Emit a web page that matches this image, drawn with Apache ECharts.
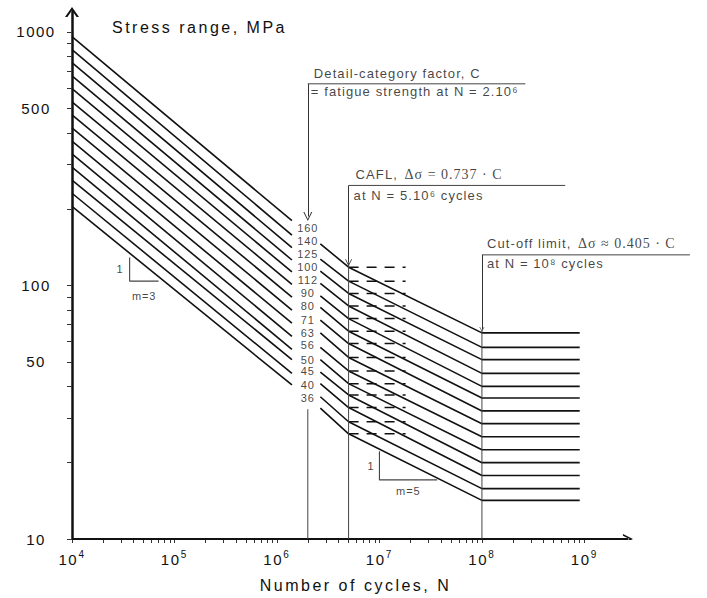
<!DOCTYPE html>
<html><head><meta charset="utf-8">
<script src="https://cdn.jsdelivr.net/npm/echarts@6/dist/echarts.min.js"></script>
<style>html,body{margin:0;padding:0;background:#fff;}#main{width:707px;height:598px;}</style>
</head><body><div id="main"></div>
<script>
// ---------- data ----------
const detailCategories = [160,140,125,112,100,90,80,71,63,56,50,45,40,36];
const categoryLabels = ['160','140','125','100','112','90','80','71','63','56','50','45','40','36'];
const categoryLabelLevel = [169,150,133,118,105,93,83,73,65,58,51,46,40.5,36];
const cycleBreaks = { start: 1e4, leftEnd: 1.4e6, rightStart: 2.65e6, cafl: 5e6, dashEnd: 1.8e7, cutoff: 1e8, end: 9e8 };
const stressAtStart = [958,851,756,671,597,530,471,418,371,330,293,260,231,205];
const stressAtLeftEnd = [180,158,141,126,113,101,90,80,71,63,56,51,45,40.5];
const stressAtRightStart = [146,127,114,102,91,82,73,65,57,51,45.5,41,36.4,32.8];
const stressCAFL = [118,104,93,83,74,66,59,52,46,41,37,33,29,26];
const stressCutoff = [65,57,51,45,40,36,32,28.5,25.3,22.5,20,17.8,15.8,14.2];

const yLabelValues = [10,50,100,500,1000];
const yTickValues = [10,20,30,40,50,60,70,80,90,100,200,300,400,500,600,700,800,900,1000];
const xLabelValues = [1e4,1e5,1e6,1e7,1e8,1e9];
const xTickValues = [];
[1e4,1e5,1e6,1e7,1e8].forEach(d => { for (let k = 1; k < 10; k++) xTickValues.push(d*k); });
xTickValues.push(1e9);
const xAxisArrowEnd = 2.66e9;   // where the drawn x-axis line ends

// guide lines: N position, bracket level, arrow tip level
const guideN = [2e6, 5e6, 1e8];
const guideTop = [624, 248, 132];
const guideArrowTip = [187, 123, 67];
const guideLowerStart = [32.5, 123, 67];
const guideRuleEndN = [2.65e8, 6.5e8, 1.07e10];

// slope triangles [N at vertical leg, top, bottom, N at right end]
const slopeM3 = { n1: 3.65e4, top: 128.8, bottom: 104, n2: 7.0e4 };
const slopeM5 = { n1: 1.0e7, top: 22.2, bottom: 17.1, n2: 3.66e7 };

// annotation texts: [guide index, text, font kind]
const annotTexts = [
  [0, 'Detail-category factor, C', 'sans'],
  [0, '= fatigue strength at N = 2.10\u2076', 'sans'],
  [1, 'CAFL,', 'sans'],
  [1, '\u0394\u03c3 = 0.737 \u00b7 C', 'serif'],
  [1, 'at N = 5.10\u2076 cycles', 'sans'],
  [2, 'Cut-off limit,', 'sans'],
  [2, '\u0394\u03c3 \u2248 0.405 \u00b7 C', 'serif'],
  [2, 'at N = 10\u2078 cycles', 'sans']
];
const annotOffsets = [[6,-10],[3,8],[7,-11],[56,-11],[5,10],[5,-11],[96,-11],[5,9]];

// ---------- chart ----------
const FONT = '"Liberation Sans", Arial, sans-serif';
const SERIF = '"Liberation Serif", "Times New Roman", serif';
const INK = '#111';
const chevron = 'path://M0,10 L7,0 L14,10 L11.6,10 L7,3.4 L2.4,10 Z';
const thinChevron = 'path://M0,10 L5,0 L10,10 L8.8,10 L5,2.2 L1.2,10 Z';

const chart = echarts.init(document.getElementById('main'), null, { renderer: 'svg' });

const spacingBySize = {16: 2.5, 15: 1.5, 14: 1.0, 13: 1.1, 11: 0.9, 10: 0.3, 9: 0.3};
function applySpacing() {
  document.querySelectorAll('#main svg text').forEach(t => {
    const fs = Math.round(parseFloat(getComputedStyle(t).fontSize));
    if (spacingBySize[fs] != null) t.style.letterSpacing = spacingBySize[fs] + 'px';
  });
}
chart.on('finished', applySpacing);

const series = [];
const curveStyle = { color: INK, width: 1.6 };
const lineBase = { type: 'line', symbol: 'none', silent: true, animation: false };

detailCategories.forEach((c, i) => {
  series.push(Object.assign({}, lineBase, {
    name: 'm3-' + c, lineStyle: curveStyle,
    data: [[cycleBreaks.start, stressAtStart[i]], [cycleBreaks.leftEnd, stressAtLeftEnd[i]]]
  }));
  series.push(Object.assign({}, lineBase, {
    name: 'curve-' + c, lineStyle: curveStyle,
    data: [[cycleBreaks.rightStart, stressAtRightStart[i]], [cycleBreaks.cafl, stressCAFL[i]],
           [cycleBreaks.cutoff, stressCutoff[i]], [cycleBreaks.end, stressCutoff[i]]]
  }));
  series.push(Object.assign({}, lineBase, {
    name: 'cafl-' + c, lineStyle: { color: INK, width: 1.5, type: [10, 8] },
    data: [[cycleBreaks.cafl, stressCAFL[i]], [cycleBreaks.dashEnd, stressCAFL[i]]]
  }));
});

// category labels
series.push({
  type: 'scatter', silent: true, symbolSize: 0, animation: false,
  data: categoryLabelLevel.map((v, i) => ({ value: [2e6, v], label: { formatter: categoryLabels[i] } })),
  label: { show: true, position: 'inside', color: INK, fontFamily: FONT, fontSize: 11 }
});

// guide lines
const guideStyle = { color: '#444', width: 1 };
guideN.forEach((n, i) => {
  series.push(Object.assign({}, lineBase, { lineStyle: guideStyle,
    data: [[n, guideTop[i]], [guideRuleEndN[i], guideTop[i]]] }));
  series.push(Object.assign({}, lineBase, { lineStyle: guideStyle,
    data: [[n, guideLowerStart[i]], [n, 10]] }));
});
series.push({
  type: 'lines', coordinateSystem: 'cartesian2d', silent: true, animation: false,
  symbol: ['none', thinChevron], symbolSize: [10, 9],
  lineStyle: { color: '#333', width: 1, opacity: 1 },
  data: guideN.map((n, i) => ({ coords: [[n, guideTop[i]], [n, guideArrowTip[i]]],
    symbolSize: [[10,9],[8,7],[6,5]][i] }))
});
// x-axis line with its arrow
series.push({
  type: 'lines', coordinateSystem: 'cartesian2d', silent: true, animation: false,
  symbol: ['none', chevron], symbolSize: [14, 10],
  lineStyle: { color: INK, width: 2, opacity: 1 },
  data: [{ coords: [[1e4, 10], [xAxisArrowEnd, 10]] }]
});

// slope triangles
[slopeM3, slopeM5].forEach(s => {
  series.push(Object.assign({}, lineBase, { lineStyle: { color: '#444', width: 1.1 },
    data: [[s.n1, s.top], [s.n1, s.bottom], [s.n2, s.bottom]] }));
});
series.push({
  type: 'scatter', silent: true, symbolSize: 0, animation: false,
  label: { show: true, color: INK, fontFamily: FONT, fontSize: 11 },
  data: [
    { value: [slopeM3.n1, Math.sqrt(slopeM3.top*slopeM3.bottom)], label: { formatter: '1', position: 'left', distance: 6 } },
    { value: [Math.sqrt(slopeM3.n1*slopeM3.n2), slopeM3.bottom], label: { formatter: 'm=3', position: 'bottom', distance: 9 } },
    { value: [slopeM5.n1, Math.sqrt(slopeM5.top*slopeM5.bottom)], label: { formatter: '1', position: 'left', distance: 5 } },
    { value: [Math.sqrt(slopeM5.n1*slopeM5.n2), slopeM5.bottom], label: { formatter: 'm=5', position: 'bottom', distance: 6 } }
  ]
});

// annotation texts
series.push({
  type: 'scatter', silent: true, symbolSize: 0, animation: false, clip: false,
  label: { show: true, align: 'left', verticalAlign: 'middle', color: INK },
  data: annotTexts.map((a, i) => ({ value: [guideN[a[0]], guideTop[a[0]]],
    label: { formatter: a[1], position: annotOffsets[i],
      fontFamily: a[2] === 'serif' ? SERIF : FONT, fontSize: a[2] === 'serif' ? 14 : 13 } }))
});

const option = {
  animation: false,
  backgroundColor: '#fff',
  title: { text: 'Stress range, MPa', left: 107, top: 14,
    textStyle: { fontFamily: FONT, fontSize: 16, fontWeight: 'normal', color: INK } },
  // x scale: 102.5 px per decade from 1e4 at x=72; plot extends to the right edge for the cut-off bracket
  grid: { left: 72, right: 12, top: 12, bottom: 58, containLabel: false },
  xAxis: {
    type: 'log', logBase: 10, min: 1e4, max: 1.2e10,
    axisLine: { show: false },
    axisTick: { show: true, customValues: xTickValues, length: 4, lineStyle: { color: '#333', width: 1 } },
    minorTick: { show: false }, splitLine: { show: false },
    axisLabel: { customValues: xLabelValues, margin: 10,
      formatter: v => '{b|10}{sup|' + Math.round(Math.log10(v)) + '}',
      rich: { b: { fontFamily: FONT, fontSize: 15, color: INK, lineHeight: 20, padding: [0, 2, 0, 0] },
              sup: { fontFamily: FONT, fontSize: 10, color: INK, verticalAlign: 'top', lineHeight: 12 } } },
    name: 'Number of cycles, N', nameLocation: 'middle', nameGap: 38,
    nameTextStyle: { fontFamily: FONT, fontSize: 16, color: INK, padding: [0, 56, 0, 0] }
  },
  yAxis: {
    type: 'log', logBase: 10, min: 10, max: 1198,
    axisLine: { show: true, onZero: false, lineStyle: { color: INK, width: 2.5 },
      symbol: ['none', chevron], symbolSize: [14, 10] },
    axisTick: { show: true, customValues: yTickValues, length: 5, lineStyle: { color: '#333', width: 1 } },
    minorTick: { show: false }, splitLine: { show: false },
    axisLabel: { customValues: yLabelValues, margin: 36, align: 'center',
      fontFamily: FONT, fontSize: 15, color: INK, formatter: v => String(Math.round(v)) }
  },
  series: series
};
chart.setOption(option);
applySpacing();
setTimeout(applySpacing, 50);
</script></body></html>
